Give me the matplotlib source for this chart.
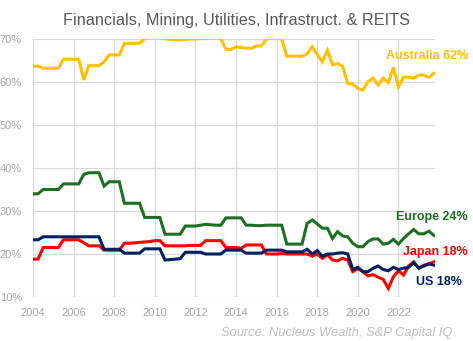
import numpy as np
import matplotlib
matplotlib.use('Agg')
import matplotlib.pyplot as plt

# quarterly share (%) of Financials, Mining, Utilities, Infrastructure & REITs, 2004 Q1 .. 2023 Q4
start_year = 2004
australia = [63.7, 63.7, 63.2, 63.2, 63.2, 63.2, 65.3, 65.3,
             65.3, 65.3, 60.5, 63.8, 63.8, 63.8, 64.7, 66.3,
             66.3, 66.3, 69.0, 69.0, 69.0, 69.0, 70.1, 70.3,
             70.2, 70.3, 70.1, 69.9, 69.8, 69.8, 69.9, 70.0,
             70.0, 70.1, 70.1, 70.2, 70.2, 70.1, 67.6, 67.6,
             68.2, 68.0, 67.9, 67.8, 68.4, 68.4, 70.0, 70.2,
             70.2, 70.0, 66.0, 66.0, 66.0, 66.0, 66.5, 68.2,
             66.4, 64.7, 67.4, 64.0, 64.3, 63.6, 59.7, 59.5,
             58.5, 58.1, 60.1, 60.9, 59.3, 60.9, 59.8, 63.4,
             58.9, 61.1, 61.1, 60.9, 61.6, 61.6, 61.1, 62.0]
europe = [34.0, 34.0, 35.0, 35.0, 35.0, 35.0, 36.3, 36.3,
          36.3, 36.3, 38.5, 38.9, 38.9, 38.9, 35.8, 36.8,
          36.8, 36.8, 31.8, 31.8, 31.8, 31.8, 28.5, 28.5,
          28.5, 28.5, 24.6, 24.6, 24.6, 24.6, 26.5, 26.5,
          26.5, 26.7, 26.9, 26.8, 26.7, 26.7, 28.4, 28.4,
          28.4, 28.4, 26.7, 26.7, 26.6, 26.6, 26.7, 26.7,
          26.7, 26.7, 22.3, 22.3, 22.3, 22.3, 27.1, 27.9,
          27.0, 26.0, 26.0, 23.6, 25.2, 24.2, 24.0, 22.5,
          21.7, 21.7, 22.9, 23.5, 23.5, 22.3, 22.5, 23.4,
          22.3, 23.6, 24.7, 25.7, 24.7, 24.7, 25.3, 24.3]
japan = [18.8, 18.8, 21.5, 21.5, 21.5, 21.5, 23.3, 23.3,
         23.3, 23.3, 22.6, 21.9, 21.9, 21.9, 20.9, 20.9,
         20.9, 20.9, 22.5, 22.5, 22.6, 22.7, 22.8, 22.9,
         23.1, 23.1, 21.9, 21.9, 21.9, 21.9, 21.9, 22.0,
         22.0, 22.0, 23.1, 23.1, 23.1, 23.1, 21.5, 21.5,
         21.5, 21.3, 22.1, 22.1, 22.1, 22.1, 20.0, 20.0,
         20.0, 20.1, 20.0, 20.0, 20.0, 20.0, 20.0, 19.5,
         20.0, 19.0, 19.8, 18.6, 18.4, 19.0, 18.6, 15.9,
         16.6, 15.9, 14.9, 15.2, 14.6, 14.1, 12.0, 14.7,
         16.1, 15.1, 17.2, 18.2, 16.7, 17.4, 17.7, 18.2]
us = [23.3, 23.3, 24.0, 24.0, 24.0, 24.0, 24.0, 24.0,
      24.0, 24.0, 24.0, 24.0, 24.0, 24.0, 21.1, 21.1,
      21.1, 21.1, 20.2, 20.2, 20.2, 20.2, 21.2, 21.2,
      21.2, 21.2, 18.6, 18.7, 18.8, 18.9, 20.4, 20.4,
      20.4, 20.4, 20.0, 20.0, 20.0, 20.0, 20.9, 20.9,
      20.9, 20.9, 20.2, 20.2, 20.2, 20.2, 20.9, 20.9,
      20.9, 20.9, 20.5, 20.5, 20.5, 20.5, 21.1, 20.0,
      20.8, 19.5, 20.0, 20.0, 20.2, 20.3, 20.0, 16.4,
      16.9, 15.9, 15.9, 16.7, 17.2, 16.4, 16.1, 16.9,
      16.4, 16.7, 16.9, 18.0, 16.7, 17.2, 17.7, 17.4]

series_names = ['Australia', 'Europe', 'Japan', 'US']
series_labels = ['Australia 62%', 'Europe 24%', 'Japan 18%', 'US 18%']
series_colors = ['#FFC000', '#1E6E23', '#FF0000', '#002060']
year_ticks = list(range(2004, 2024, 2))
pct_ticks = [10, 20, 30, 40, 50, 60, 70]


def plotResult():
    plt.rcParams['font.family'] = ['Liberation Sans', 'DejaVu Sans']

    W, H = 473, 341
    fig = plt.figure(figsize=(W / 100, H / 100), dpi=100)
    ax = fig.add_axes([33 / W, 1 - 297 / H, (435 - 33) / W, (297 - 39) / H])

    dates = start_year + np.arange(len(australia)) * 0.25
    for values, color in zip([australia, europe, japan, us], series_colors):
        ax.plot(dates, values, color=color, lw=2.2, solid_joinstyle='miter', zorder=3)

    ax.set_xlim(2004, 2023.8)
    ax.set_ylim(10, 70)
    ax.set_xticks(year_ticks)
    ax.set_yticks(pct_ticks)
    ax.set_yticklabels([f'{v}%' for v in pct_ticks])
    ax.grid(True, color='#D9D9D9', lw=0.9)
    ax.set_axisbelow(True)
    for s in ax.spines.values():
        s.set_visible(False)
    ax.tick_params(length=0, labelsize=8, colors='#A6A6A6')
    ax.tick_params(axis='y', pad=8)
    ax.tick_params(axis='x', pad=8)

    fig.text(0.5, 1 - 21 / H, 'Financials, Mining, Utilities, Infrastruct. & REITS',
             ha='center', va='center', fontsize=11.7, color='#595959')

    label_y = [56, 217, 252, 282]
    label_x = [468, 468, 468, 462]
    for txt, color, y, x in zip(series_labels, series_colors, label_y, label_x):
        fig.text(x / W, 1 - y / H, txt, ha='right', va='center',
                 fontsize=9, fontweight='bold', color=color)

    fig.text(452 / W, 1 - 333 / H, 'Source: Nucleus Wealth, S&P Capital IQ',
             ha='right', va='center', fontsize=9.3, style='italic', color='#BFBFBF')

    plt.savefig('out.png', dpi=100)


if __name__ == '__main__':
    plotResult()
